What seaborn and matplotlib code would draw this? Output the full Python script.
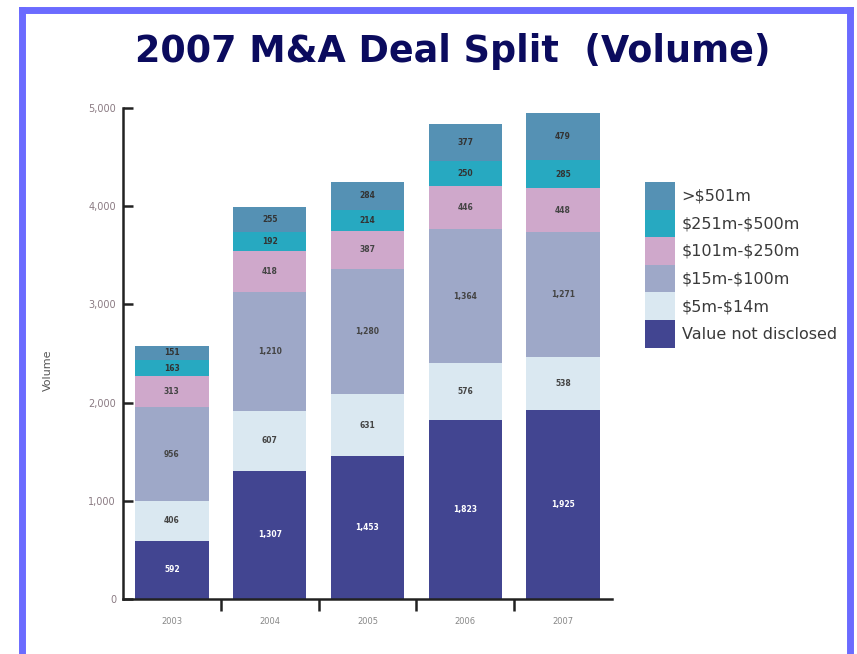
import matplotlib
matplotlib.use("Agg")
import matplotlib.pyplot as plt
from matplotlib.lines import Line2D
from matplotlib.patches import Patch
import numpy as np
import pandas as pd
import seaborn as sns

# data (deal counts per size band)
years = ["2003", "2004", "2005", "2006", "2007"]
not_disclosed = [592, 1307, 1453, 1823, 1925]
m5_14 = [406, 607, 631, 576, 538]
m15_100 = [956, 1210, 1280, 1364, 1271]
m101_250 = [313, 418, 387, 446, 448]
m251_500 = [163, 192, 214, 250, 285]
over_501 = [151, 255, 284, 377, 479]

bands = ["Value not disclosed", "\\$5m-\\$14m", "\\$15m-\\$100m",
         "\\$101m-\\$250m", "\\$251m-\\$500m", ">\\$501m"]
layers = [not_disclosed, m5_14, m15_100, m101_250, m251_500, over_501]
colors = ["#424591", "#dae8f1", "#9ea8c8", "#cfa8cb", "#27a9c1", "#5591b4"]
text_colors = ["white", "#444444", "#444444", "#444444", "#333333", "#333333"]

sns.set_style("white")
plt.rcParams['font.family'] = ['DejaVu Sans']

fig = plt.figure(figsize=(8.57, 6.54), dpi=100)
ax = fig.add_axes([0.1435, 0.0841, 0.5706, 0.7508])

# stacked bars: draw cumulative totals from the top layer down
cum = np.cumsum(np.array(layers), axis=0)
for i in range(len(layers) - 1, -1, -1):
    df = pd.DataFrame({"year": years, "value": cum[i]})
    sns.barplot(data=df, x="year", y="value", color=colors[i], width=0.75,
                saturation=1, ax=ax, edgecolor="none", linewidth=0)

# segment labels
for i, layer in enumerate(layers):
    bottoms = cum[i] - np.array(layer)
    for j, v in enumerate(layer):
        ax.text(j, bottoms[j] + v / 2, f"{v:,}", ha="center", va="center",
                fontsize=5.5, color=text_colors[i], fontweight="bold")

ax.set_xlim(-0.5, 4.5)
ax.set_ylim(0, 5000)
ax.set_yticks([0, 1000, 2000, 3000, 4000, 5000])
ax.set_yticklabels(["0", "1,000", "2,000", "3,000", "4,000", "5,000"])
ax.tick_params(axis="y", direction="in", length=7, width=1.8, color="#222222",
               labelsize=7, labelcolor="#8a7a82", pad=5, left=True)
ax.set_xticks(range(len(years)))
ax.set_xticklabels(years)
ax.set_xticks([0.5, 1.5, 2.5, 3.5], minor=True)
ax.tick_params(axis="x", which="major", length=0, labelsize=6, labelcolor="#888888", pad=13)
ax.tick_params(axis="x", which="minor", direction="out", length=8.5, width=1.8,
               color="#222222", bottom=True)
ax.set_xlabel("")
ax.set_ylabel("")
for side in ["top", "right"]:
    ax.spines[side].set_visible(False)
for side in ["left", "bottom"]:
    ax.spines[side].set_color("#222222")
    ax.spines[side].set_linewidth(1.8)

fig.text(48 / 857, 1 - 370 / 654, "Volume", rotation=90, ha="center", va="center",
         fontsize=8, color="#555555")

fig.text(453 / 857, 1 - 52 / 654, "2007 M&A Deal Split  (Volume)", ha="center", va="center",
         fontsize=26.3, fontweight="bold", color="#0b0b5e")

# legend, top band first
handles = [Patch(facecolor=colors[i], edgecolor="none") for i in range(len(colors) - 1, -1, -1)]
labels = [bands[i] for i in range(len(bands) - 1, -1, -1)]
fig.legend(handles, labels, loc="upper left", bbox_to_anchor=(645 / 857, 1 - 182 / 654),
           frameon=False, fontsize=11.5, handlelength=1.9, handleheight=2.28,
           labelspacing=0, borderpad=0, borderaxespad=0, handletextpad=0.4,
           labelcolor="#3a3a3a")

# blue frame (open at the bottom)
frame_kw = dict(color="#6b6bff", linewidth=5, transform=fig.transFigure, solid_capstyle="projecting")
fig.add_artist(Line2D([21.5 / 857, 21.5 / 857], [0, 1 - 9.5 / 654], **frame_kw))
fig.add_artist(Line2D([21.5 / 857, 850 / 857], [1 - 9.5 / 654, 1 - 9.5 / 654], **frame_kw))
fig.add_artist(Line2D([850 / 857, 850 / 857], [0, 1 - 9.5 / 654], **frame_kw))

fig.savefig("out.png", dpi=100)
